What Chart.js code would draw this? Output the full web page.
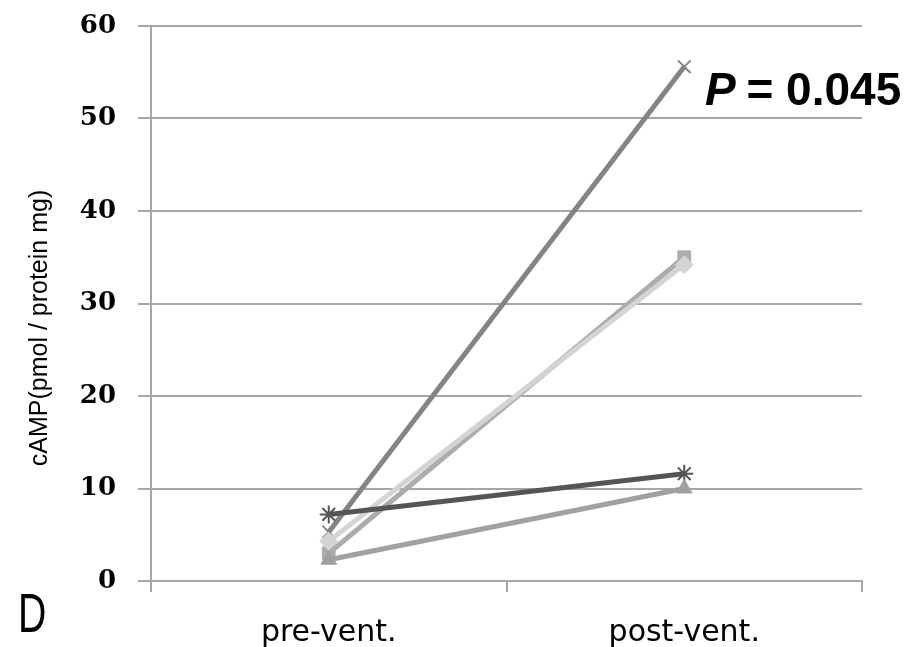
<!DOCTYPE html>
<html lang="en">
<head>
    <meta charset="UTF-8">
    <title>cAMP pre/post ventilation</title>
    <script src="https://cdn.jsdelivr.net/npm/chart.js"></script>
    <style>
        body {
            margin: 0;
            padding: 0;
            background: #fff;
        }
        .chart-box {
            width: 910px;
            height: 647px;
        }
    </style>
</head>
<body>
    <div class="chart-box">
        <canvas id="campChart"></canvas>
    </div>
    <script>
        // values
        const categories = ['pre-vent.', 'post-vent.'];
        const yTicks = [0, 10, 20, 30, 40, 50, 60];
        const subjectCross = [5.3, 55.6];
        const subjectDiamond = [4.3, 34.2];
        const subjectSquare = [3.0, 35.0];
        const subjectStar = [7.2, 11.6];
        const subjectTriangle = [2.3, 10.0];

        const gridGray = '#a6a6a6';

        function series(values, color, style) {
            return {
                data: values,
                borderColor: color,
                backgroundColor: color,
                borderWidth: 5,
                pointStyle: style,
                pointRadius: 9,
                pointBorderWidth: style === 'crossRot' || style === 'star' ? 2 : 1,
                tension: 0
            };
        }

        // extra labels: panel letter, p-value, y title
        const annotations = {
            id: 'annotations',
            afterDraw(chart) {
                const ctx = chart.ctx;
                ctx.save();
                ctx.fillStyle = '#000';
                ctx.textBaseline = 'alphabetic';

                // y axis title
                ctx.save();
                ctx.translate(47, 328);
                ctx.rotate(-Math.PI / 2);
                ctx.textAlign = 'center';
                ctx.font = '25px "Liberation Sans", Arial, sans-serif';
                ctx.fillText('cAMP(pmol / protein mg)', 0, 0);
                ctx.restore();

                // panel letter
                ctx.save();
                ctx.translate(18, 632);
                ctx.scale(0.7, 1);
                ctx.font = '56px "Liberation Sans", Arial, sans-serif';
                ctx.textAlign = 'left';
                ctx.fillText('D', 0, 0);
                ctx.restore();

                // p-value
                ctx.textAlign = 'left';
                ctx.font = 'italic bold 46px "Liberation Sans", Arial, sans-serif';
                ctx.fillText('P', 705, 105);
                const pw = ctx.measureText('P').width;
                ctx.font = 'bold 46px "Liberation Sans", Arial, sans-serif';
                ctx.fillText(' = 0.045', 705 + pw - 2, 105);
                ctx.restore();
            }
        };

        new Chart(document.getElementById('campChart'), {
            type: 'line',
            data: {
                labels: categories,
                datasets: [
                    series(subjectTriangle, '#a0a0a0', 'triangle'),
                    series(subjectStar, '#555555', 'star'),
                    series(subjectDiamond, '#d4d4d4', 'rectRot'),
                    series(subjectSquare, '#acacac', 'rect'),
                    series(subjectCross, '#848484', 'crossRot')
                ]
            },
            options: {
                responsive: true,
                maintainAspectRatio: false,
                animation: false,
                layout: {
                    padding: { top: 26, right: 48, left: 0, bottom: 0 }
                },
                plugins: {
                    legend: { display: false },
                    tooltip: { enabled: false }
                },
                scales: {
                    x: {
                        offset: true,
                        grid: {
                            offset: true,
                            drawOnChartArea: false,
                            tickLength: 11,
                            color: gridGray,
                            lineWidth: 2
                        },
                        border: { color: gridGray, width: 2 },
                        ticks: {
                            color: '#000',
                            padding: 23,
                            maxRotation: 0,
                            font: { family: '"DejaVu Sans", sans-serif', size: 30 }
                        },
                        afterFit(scale) {
                            scale.height = 66;
                            scale.paddingLeft = 0;
                            scale.paddingRight = 0;
                        }
                    },
                    y: {
                        min: 0,
                        max: 60,
                        afterBuildTicks(scale) {
                            scale.ticks = yTicks.map(v => ({ value: v }));
                        },
                        grid: {
                            color: gridGray,
                            lineWidth: 2,
                            tickLength: 13
                        },
                        border: { color: gridGray, width: 2 },
                        ticks: {
                            color: '#000',
                            padding: 22,
                            font: { family: '"DejaVu Serif", serif', size: 26, weight: 'bold' }
                        },
                        afterFit(scale) {
                            scale.width = 151;
                            scale.paddingTop = 0;
                            scale.paddingBottom = 0;
                        }
                    }
                }
            },
            plugins: [annotations]
        });
    </script>
</body>
</html>
